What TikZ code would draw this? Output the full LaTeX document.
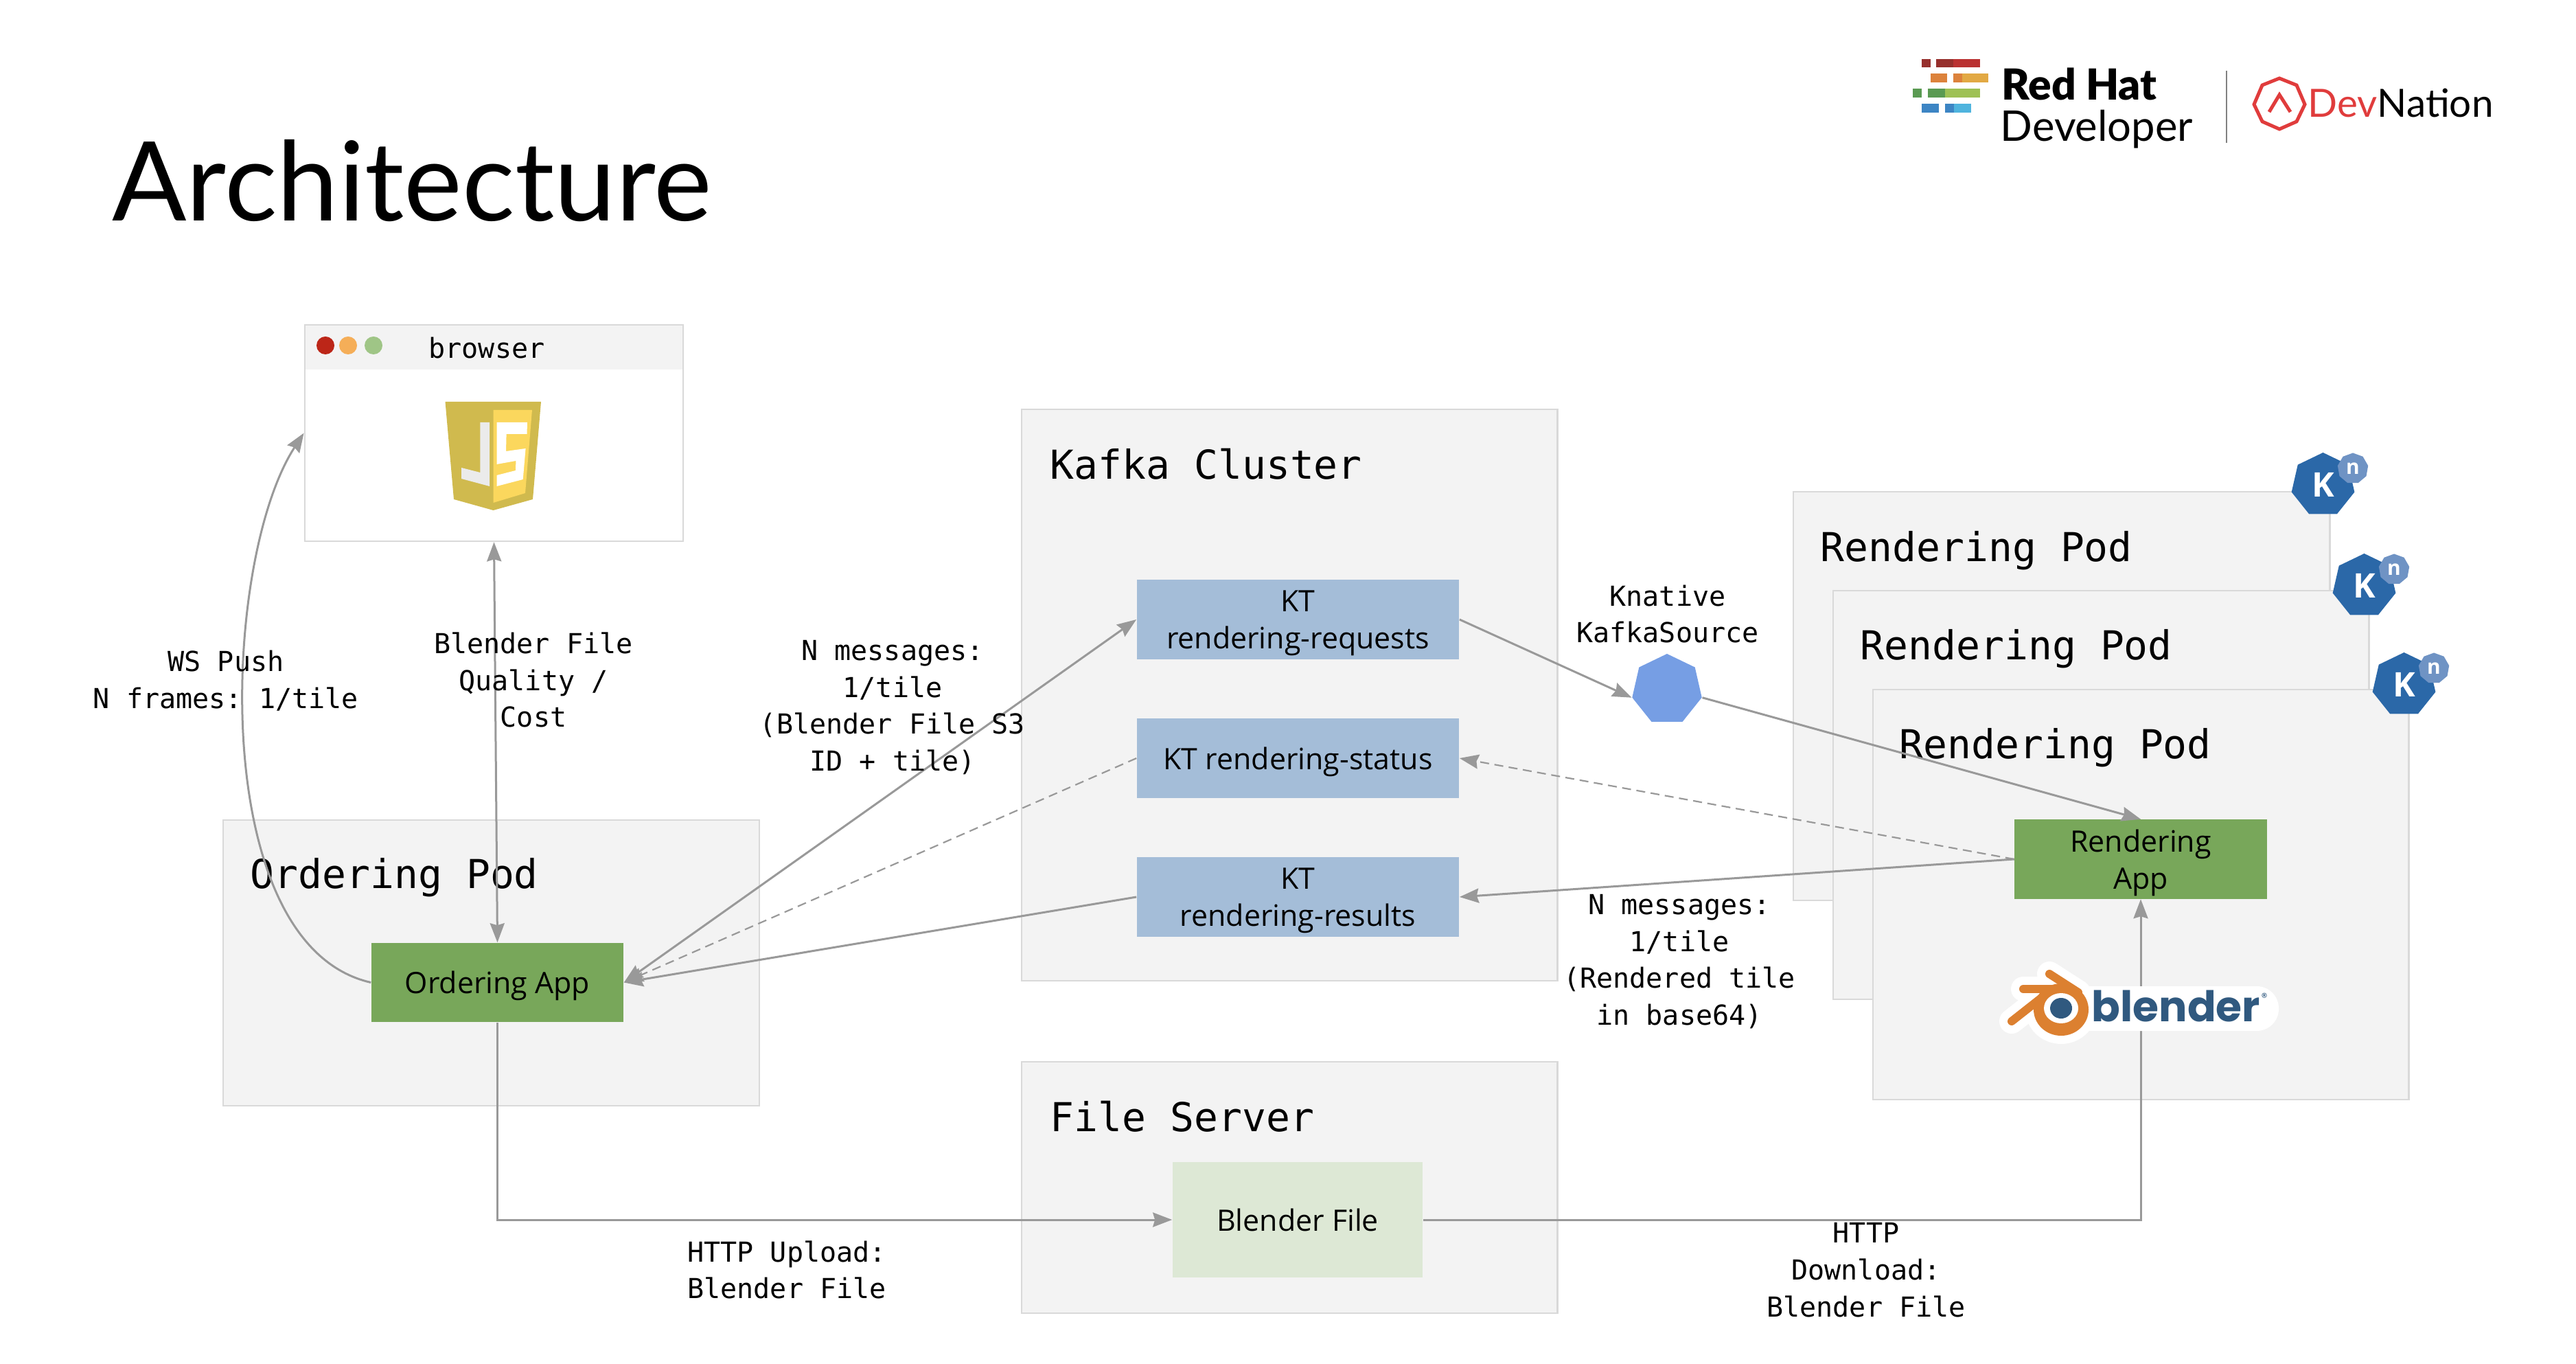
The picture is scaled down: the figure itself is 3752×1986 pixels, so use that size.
\documentclass[tikz,border=0pt]{standalone}
\usepackage{fontspec}
\setmainfont{Open Sans}
\setmonofont{DejaVu Sans Mono}
\newfontfamily\brandfont{Lato}
\newfontfamily\brandheavy{Lato Black}
\newfontfamily\blendfont{Poppins}
\usetikzlibrary{arrows.meta}
\usetikzlibrary{shapes.geometric}
\definecolor{podfill}{HTML}{F3F3F3}
\definecolor{podline}{HTML}{D9D9D9}
\definecolor{wiregray}{HTML}{999999}
\definecolor{appgreen}{HTML}{78A75A}
\definecolor{ktblue}{HTML}{A4BDD8}
\definecolor{filegreen}{HTML}{DDE8D5}
\definecolor{sourceblue}{HTML}{769EE4}
\definecolor{kblue}{HTML}{2B68A8}
\definecolor{nblue}{HTML}{6F93C4}
\definecolor{orangeeye}{HTML}{DC8030}
\definecolor{blendblue}{HTML}{30597F}
\definecolor{devred}{HTML}{E03C3C}
\definecolor{jsgold}{HTML}{D0BA4E}
\definecolor{jsyellow}{HTML}{FBD75D}
\definecolor{jsgray}{HTML}{EBEBEB}
\definecolor{dotred}{HTML}{BC2618}
\definecolor{dotorange}{HTML}{F5AE58}
\definecolor{dotgreen}{HTML}{9FC586}
\definecolor{barreddark}{HTML}{96302D}
\definecolor{barred}{HTML}{BA3232}
\definecolor{barorange}{HTML}{DC823C}
\definecolor{baryellow}{HTML}{E2A944}
\definecolor{bargreendark}{HTML}{5A9A52}
\definecolor{bargreen}{HTML}{9EC155}
\definecolor{barblue}{HTML}{3D85C4}
\definecolor{barcyan}{HTML}{4FB4DE}
\newcommand{\wirewidth}{0.03cm}
\newcommand{\labelfont}{\ttfamily\fontsize{11.4}{15.3}\selectfont}
\newcommand{\podfont}{\ttfamily\fontsize{16.5}{20}\selectfont}
\tikzset{podbox/.style={draw=podline, fill=podfill, line width=0.025cm, inner sep=0pt}}
\tikzset{podtitle/.style={anchor=west, inner sep=0pt, text depth=0pt, font=\podfont}}
\tikzset{appbox/.style={fill=appgreen, inner sep=0pt, text depth=0pt, minimum width=3.67cm, minimum height=1.15cm, align=center, font=\fontsize{12.2}{15.3}\selectfont}}
\tikzset{ktbox/.style={appbox, fill=ktblue, minimum width=4.69cm}}
\tikzset{msglabel/.style={inner sep=0pt, align=center, font=\labelfont}}
\tikzset{wire/.style={draw=wiregray, line width=\wirewidth, >={Stealth[length=0.28cm,width=0.21cm,inset=0.03cm]}}}
\tikzset{wiredash/.style={wire, line width=0.022cm, dash pattern=on 0.13cm off 0.08cm}}
\tikzset{dotpt/.style={circle, inner sep=0pt, minimum width=0.26cm}}
\tikzset{kbadge/.style={regular polygon, regular polygon sides=7, fill=kblue, text=white, inner sep=0pt, minimum size=0.94cm, font=\fontsize{14}{14}\selectfont\bfseries}}
\tikzset{nbadge/.style={regular polygon, regular polygon sides=9, fill=nblue, text=white, inner sep=0pt, minimum size=0.45cm, font=\fontsize{8.5}{8.5}\selectfont\bfseries}}
\begin{document}
\begin{tikzpicture}[x=0.01cm, y=-0.01cm]
\useasboundingbox (0,0) rectangle (3752,1986);

\node[anchor=base west, inner sep=0pt, font=\brandfont\fontsize{45.6}{46}\selectfont] (title) at (163,322) {Architecture};

% logos
\fill[barreddark] (2799,86) rectangle (2812,98);
\fill[barreddark] (2820,86) rectangle (2845,98);
\fill[barred] (2845,86) rectangle (2884,98);
\fill[barorange] (2812,107) rectangle (2836,120);
\fill[barorange] (2845,107) rectangle (2858,120);
\fill[baryellow] (2858,107) rectangle (2896,120);
\fill[bargreendark] (2786,129) rectangle (2799,142);
\fill[bargreendark] (2808,129) rectangle (2833,142);
\fill[bargreen] (2833,129) rectangle (2884,142);
\fill[barblue] (2799,151) rectangle (2824,164);
\fill[barblue] (2833,151) rectangle (2846,164);
\fill[barcyan] (2846,151) rectangle (2871,164);
\node[anchor=base west, inner sep=0pt, font=\brandheavy\fontsize{17.7}{17.7}\selectfont] (redhat) at (2915,146) {Red Hat};
\node[anchor=base west, inner sep=0pt, font=\brandfont\fontsize{17.5}{17.5}\selectfont] (developer) at (2913,206) {Developer};
\draw[gray, line width=0.015cm] (3243,103) -- (3243,208);
\draw[devred, line width=0.05cm] (3320,114) -- (3345,124) -- (3357,152) -- (3345,177) -- (3320,188) -- (3295,177) -- (3283,152) -- (3295,124) -- cycle;
\draw[devred, line width=0.05cm] (3305,163) -- (3320,138) -- (3336,163);
\node[anchor=base west, inner sep=0pt, font=\brandfont\fontsize{16.1}{16}\selectfont] (devnation) at (3361,171) {\textcolor{devred}{Dev}Nation};

% pods
\node[podbox, fill=white, minimum width=5.51cm, minimum height=3.15cm] (browser) at (719.5,630.5) {};
\node[podbox, minimum width=7.8cm, minimum height=8.32cm] (kafka) at (1878,1012) {};
\node[podbox, minimum width=7.81cm, minimum height=4.16cm] (orderpod) at (715.5,1402) {};
\node[podbox, minimum width=7.8cm, minimum height=3.66cm] (fileserver) at (1878,1729) {};
\node[podbox, minimum width=7.81cm, minimum height=5.95cm] (renderpod1) at (3002.5,1013.5) {};
\node[podbox, minimum width=7.8cm, minimum height=5.95cm] (renderpod2) at (3060,1157.5) {};
\node[podbox, minimum width=7.8cm, minimum height=5.97cm] (renderpod3) at (3118,1302.5) {};

\node[podtitle] (kafkatitle) at (1529,675) {Kafka Cluster};
\node[podtitle] (ordertitle) at (364,1271) {Ordering Pod};
\node[podtitle] (filetitle) at (1529,1625) {File Server};
\node[podtitle] (rendertitle1) at (2651,795) {Rendering Pod};
\node[podtitle] (rendertitle2) at (2709,938) {Rendering Pod};
\node[podtitle] (rendertitle3) at (2766,1082) {Rendering Pod};

% browser window
\fill[podfill] (445,474) rectangle (994,538);
\node[dotpt, fill=dotred] (dot1) at (474,503) {};
\node[dotpt, fill=dotorange] (dot2) at (507,503) {};
\node[dotpt, fill=dotgreen] (dot3) at (544,503) {};
\node[msglabel] (browsertitle) at (709,507) {browser};

% js shield
\fill[jsgold] (648.5,585) -- (788,585) -- (776,727) -- (718.5,743) -- (661,727) -- cycle;
\fill[jsyellow] (718.5,597) -- (775,597) -- (765,718) -- (718.5,732) -- cycle;
\fill[jsgray] (699.4,615) -- (713,615) -- (713,708) -- (672,697) -- (672,681) -- (699.4,688) -- cycle;
\fill[white] (723.5,615) -- (768,615) -- (767.5,632) -- (737.6,632) -- (737,657) -- (765.6,653) -- (761.7,698) -- (723.5,708) -- (723.5,692) -- (751,685) -- (751.4,671) -- (723.5,676) -- cycle;

% kafka topics and apps
\node[ktbox] (ktrequests) at (1890.5,902) {KT\\rendering-requests};
\node[ktbox] (ktstatus) at (1890.5,1104) {KT rendering-status};
\node[ktbox] (ktresults) at (1890.5,1306) {KT\\rendering-results};
\node[appbox] (orderapp) at (724.5,1430.5) {Ordering App};
\node[appbox] (renderapp) at (3118,1251) {Rendering\\App};
\node[appbox, fill=filegreen, minimum width=3.64cm, minimum height=1.68cm] (blendfile) at (1890,1776) {Blender File};
\node[regular polygon, regular polygon sides=7, fill=sourceblue, inner sep=0pt, minimum size=1.04cm] (source) at (2428,1004) {};

% knative badges
\node[kbadge] (kbadge1) at (3383.5,706) {K};
\node[nbadge] (nbadge1) at (3427,682) {n};
\node[kbadge] (kbadge2) at (3443.5,853) {K};
\node[nbadge] (nbadge2) at (3487,829) {n};
\node[kbadge] (kbadge3) at (3501.5,997) {K};
\node[nbadge] (nbadge3) at (3545,973) {n};

% connectors
\draw[wire,->] (orderapp.west) .. controls (300,1376) and (323,814) .. (browser.west);
\draw[wire,<->] (orderapp.north) -- (browser.south);
\draw[wire,<->] (orderapp.east) -- (ktrequests.west);
\draw[wiredash,->] (ktstatus.west) -- (orderapp.east);
\draw[wire,->] (ktresults.west) -- (orderapp.east);
\draw[wire,->] (ktrequests.east) -- (source.corner 3);
\draw[wire,->] (source.corner 6) -- (renderapp.north);
\draw[wiredash,->] (renderapp.west) -- (ktstatus.east);
\draw[wire,->] (renderapp.west) -- (ktresults.east);
\draw[wire,->] (orderapp.south) |- (blendfile.west);
\draw[wire,->] (blendfile.east) -| (renderapp.south);

% blender logo
\fill[white, rounded corners=0.32cm] (3010,1436) rectangle (3319,1501);
\draw[white, line width=0.36cm, line cap=round] (2985,1418) -- (3027,1445);
\draw[white, line width=0.36cm, line cap=round] (2947,1440) -- (2993,1440);
\draw[white, line width=0.36cm, line cap=round] (2930,1487) -- (2977,1450);
\fill[white] (3002,1470) ellipse [x radius=52, y radius=50];
\draw[orangeeye, line width=0.12cm, line cap=round] (2985,1418) -- (3027,1445);
\draw[orangeeye, line width=0.12cm, line cap=round] (2947,1440) -- (2993,1440);
\draw[orangeeye, line width=0.12cm, line cap=round] (2930,1487) -- (2977,1450);
\fill[orangeeye] (2975,1434) -- (3010,1434) -- (3030,1450) -- (2980,1455) -- cycle;
\fill[orangeeye] (3002,1470) ellipse [x radius=40, y radius=38];
\fill[white] (3002,1468) ellipse [x radius=25, y radius=22];
\fill[blendblue] (3002,1468) ellipse [x radius=16, y radius=15];
\node[anchor=base west, inner sep=0pt, text=blendblue, font=\blendfont\fontsize{17.5}{17.5}\selectfont\bfseries] (blendertext) at (3046,1487) {blender};
\node[inner sep=0pt, text=blendblue, font=\blendfont\fontsize{5}{5}\selectfont] (blendermark) at (3298,1452) {®};

% labels
\node[msglabel] (wslabel) at (329,991) {WS Push\\N frames: 1/tile};
\node[msglabel] (qualitylabel) at (777,990) {Blender File\\Quality /\\Cost};
\node[msglabel] (reqlabel) at (1300,1030) {N messages:\\1/tile\\(Blender File S3\\ID + tile)};
\node[msglabel] (sourcelabel) at (2429,894) {Knative\\KafkaSource};
\node[msglabel] (reslabel) at (2446,1400) {N messages:\\1/tile\\(Rendered tile\\in base64)};
\node[msglabel] (uploadlabel) at (1146,1849) {HTTP Upload:\\Blender File};
\node[msglabel] (downloadlabel) at (2718,1849) {HTTP\\Download:\\Blender File};

\end{tikzpicture}
\end{document}
